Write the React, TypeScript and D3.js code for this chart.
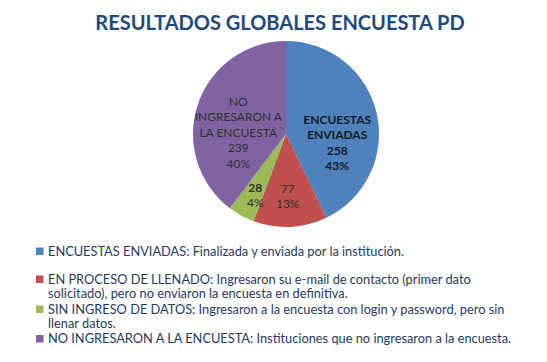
import React from 'react';
import * as d3 from 'd3';

// datos del gráfico
const categories = ['ENCUESTAS ENVIADAS', 'EN PROCESO DE LLENADO', 'SIN INGRESO DE DATOS', 'NO INGRESARON A LA ENCUESTA'];
const values = [258, 77, 28, 239];
const percentLabels = ['43%', '13%', '4%', '40%'];
const legendTexts = [
  ['ENCUESTAS ENVIADAS: Finalizada y enviada por la institución.'],
  ['EN PROCESO DE LLENADO: Ingresaron su e-mail de contacto (primer dato', 'solicitado), pero no enviaron la encuesta en definitiva.'],
  ['SIN INGRESO DE DATOS: Ingresaron a la encuesta con login y password, pero sin', 'llenar datos.'],
  ['NO INGRESARON A LA ENCUESTA: Instituciones que no ingresaron a la encuesta.'],
];
const title = 'RESULTADOS GLOBALES ENCUESTA PD';

// estilos
const colors = ['#4F81BD', '#C0504D', '#9BBB59', '#8064A2'];
const sliceLabelLines = [
  ['ENCUESTAS', 'ENVIADAS'],
  [],
  [],
  ['NO', 'INGRESARON A', 'LA ENCUESTA'],
];
const labelBold = [true, false, false, false];
const labelOffsets = [[-5, 22], [-1, 5], [-3, 11], [7, 17]];

const W = 547;
const H = 362;
const cx = 286;
const cy = 134;
const r = 93;
const font = 'Lato, "Open Sans", sans-serif';

export default function App() {
  const color = d3.scaleOrdinal<string, string>().domain(categories).range(colors);
  const pie = d3.pie<number>().sort(null).value(d => d);
  const arcs = pie(values);
  const arc = d3.arc<d3.PieArcDatum<number>>().innerRadius(0).outerRadius(r);
  const labelArc = d3.arc<d3.PieArcDatum<number>>().innerRadius(r * 0.62).outerRadius(r * 0.62);

  const lineH = 15.5;
  // líneas base de la leyenda
  const legendBase = [255.5, 283.5, 313.5, 343];
  const wrapH = 14.8;

  return (
    <svg width={W} height={H} style={{ position: 'absolute', left: 0, top: 0, background: '#fff' }}>
      <text x={280} y={30} textAnchor="middle" fontFamily={font} fontWeight="bold" fontSize={20} fill="#1F497D">
        {title}
      </text>
      <g transform={`translate(${cx},${cy})`}>
        {arcs.map((a, i) => (
          <path key={i} d={arc(a) || ''} fill={color(categories[i])} />
        ))}
        {arcs.map((a, i) => {
          const [x, y] = labelArc.centroid(a);
          const lines = [...sliceLabelLines[i], String(values[i]), percentLabels[i]];
          const lx = x + labelOffsets[i][0];
          const ly = y + labelOffsets[i][1] - ((lines.length - 1) * lineH) / 2;
          return (
            <text key={i} x={lx} y={ly} textAnchor="middle" fontFamily={font} fontSize={12}
              fontWeight={labelBold[i] ? 'bold' : 'normal'} fill={labelBold[i] ? '#0d1a2b' : '#2e2e2e'}>
              {lines.map((t, j) => (
                <tspan key={j} x={lx} dy={j === 0 ? 4 : lineH}
                  fontWeight={i === 2 && j === 0 ? 'bold' : undefined}>{t}</tspan>
              ))}
            </text>
          );
        })}
      </g>
      <g>
        {legendTexts.map((lines, i) => (
          <g key={i}>
            <rect x={36} y={legendBase[i] - 8} width={7.5} height={7.5} fill={color(categories[i])} />
            <text x={48} y={legendBase[i]} fontFamily={font} fontSize={12.8} fill="#1F3A5F">
              {lines.map((t, j) => (
                <tspan key={j} x={48} dy={j === 0 ? 0 : wrapH}>{t}</tspan>
              ))}
            </text>
          </g>
        ))}
      </g>
    </svg>
  );
}
